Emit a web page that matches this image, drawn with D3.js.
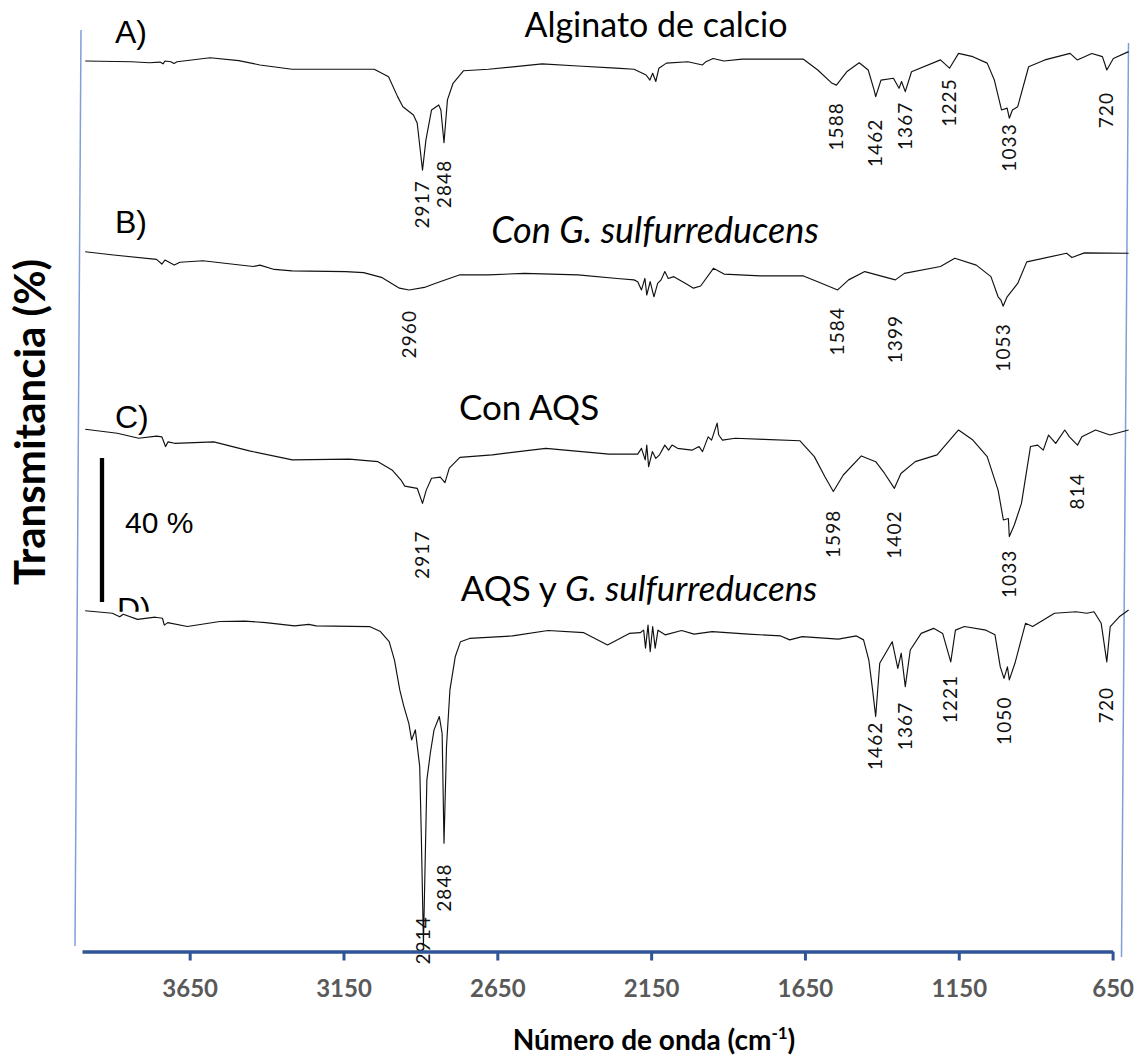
<!DOCTYPE html>
<html>
<head>
<meta charset="utf-8">
<script src="https://cdn.jsdelivr.net/npm/d3@7"></script>
<style>
  html, body { margin: 0; padding: 0; background: #fff; }
  svg { display: block; }
</style>
</head>
<body>
<svg id="chart" width="1145" height="1057"></svg>
<script>
// FTIR spectra: [wavenumber (cm-1), transmittance (%)]; each trace is stacked with its own offset.
const spectrumA = [[4000,92.5],[3852,92.3],[3794,92.0],[3760,92.2],[3750,91.7],[3744,92.5],[3725,92.3],[3715,91.8],[3705,92.3],[3599,93.4],[3507,92.6],[3439,91.4],[3336,90.2],[3072,90.2],[3026,88.1],[2997,82.6],[2980,79.8],[2946,77.5],[2934,75.2],[2917,62.2],[2906,70.6],[2888,78.9],[2865,80.3],[2858,78.9],[2848,69.8],[2837,81.7],[2819,86.3],[2785,89.8],[2705,90.2],[2533,91.7],[2418,91.1],[2296,90.5],[2238,90.2],[2199,88.6],[2187,87.2],[2178,89.1],[2168,86.8],[2158,90.5],[2134,91.9],[2065,92.3],[2018,91.4],[2007,92.3],[1984,93.2],[1949,92.5],[1891,93.0],[1694,93.0],[1648,90.0],[1602,86.3],[1588,85.8],[1555,89.5],[1515,92.0],[1486,90.0],[1467,84.4],[1462,82.6],[1445,87.2],[1405,87.7],[1387,84.9],[1379,86.8],[1367,84.0],[1347,89.5],[1254,92.8],[1225,90.5],[1196,94.6],[1150,93.7],[1104,91.9],[1081,87.2],[1058,78.9],[1040,79.4],[1033,76.6],[1023,78.9],[1006,79.8],[971,90.9],[919,92.8],[838,94.6],[815,92.8],[768,94.6],[734,93.7],[720,90.0],[699,93.2],[650,95.1]];

const spectrumB = [[4000,94.5],[3909,93.6],[3771,92.4],[3754,91.1],[3744,92.2],[3714,90.8],[3696,91.6],[3622,92.0],[3461,90.4],[3439,90.8],[3393,89.6],[3336,89.2],[3164,89.0],[3106,88.7],[3049,87.4],[2991,84.4],[2960,83.9],[2911,84.6],[2877,85.7],[2797,88.1],[2705,88.1],[2590,88.5],[2418,88.1],[2283,87.0],[2238,86.7],[2226,86.2],[2214,83.9],[2203,87.1],[2197,82.5],[2186,86.2],[2174,82.0],[2162,85.7],[2151,86.7],[2139,89.0],[2128,87.1],[2110,87.6],[2064,85.3],[2047,84.4],[2024,85.0],[1983,89.9],[1949,88.3],[1833,87.8],[1694,87.8],[1648,86.2],[1584,83.9],[1549,86.7],[1497,89.0],[1399,86.7],[1370,88.5],[1254,90.4],[1208,92.7],[1139,90.8],[1092,87.6],[1069,82.0],[1060,81.1],[1053,79.4],[1040,82.0],[1006,85.7],[977,91.7],[849,94.1],[832,92.9],[792,94.2],[650,94.1]];

const spectrumC = [[4000,95.2],[3897,94.1],[3828,92.7],[3771,93.3],[3754,93.1],[3742,90.4],[3734,91.7],[3713,91.3],[3587,91.7],[3473,89.2],[3335,86.7],[3152,86.9],[3060,86.2],[3015,83.9],[2986,81.1],[2974,79.4],[2934,78.8],[2917,74.6],[2905,78.3],[2888,81.6],[2860,81.9],[2845,80.4],[2831,84.4],[2797,87.4],[2693,88.1],[2521,89.9],[2406,89.0],[2318,88.3],[2226,88.3],[2214,89.9],[2202,86.7],[2197,90.8],[2191,84.8],[2179,89.0],[2168,87.1],[2156,88.1],[2139,90.8],[2127,89.4],[2116,90.8],[2098,89.9],[2052,89.4],[2029,90.4],[2018,89.0],[2000,93.1],[1989,92.2],[1971,96.9],[1966,93.6],[1954,92.2],[1913,92.7],[1821,92.4],[1705,92.0],[1659,87.6],[1625,82.0],[1598,77.9],[1566,82.5],[1508,87.8],[1462,86.2],[1434,83.0],[1402,78.8],[1381,82.9],[1335,86.2],[1265,88.1],[1196,95.0],[1150,92.2],[1104,87.6],[1069,78.3],[1052,70.0],[1036,70.4],[1033,65.4],[1017,68.6],[994,74.6],[965,90.4],[942,90.8],[924,89.4],[907,93.6],[884,91.3],[855,95.0],[840,93.1],[814,90.8],[800,93.1],[756,95.0],[710,93.6],[650,95.0]];

const spectrumD = [[4000,94.8],[3913,94.1],[3889,93.1],[3878,93.8],[3832,92.4],[3775,93.0],[3752,92.7],[3746,90.8],[3735,91.5],[3672,90.4],[3568,91.8],[3488,91.9],[3420,91.5],[3328,90.6],[3282,91.0],[3259,90.6],[3087,90.4],[3052,89.0],[3024,86.2],[3007,81.1],[2990,72.8],[2978,68.6],[2961,63.5],[2952,58.9],[2940,61.7],[2926,51.5],[2921,33.0],[2914,2.2],[2903,47.8],[2892,55.2],[2880,61.7],[2863,65.4],[2854,60.7],[2848,30.2],[2840,57.0],[2829,72.8],[2812,82.0],[2795,86.2],[2766,87.1],[2628,87.8],[2514,89.3],[2399,88.7],[2323,85.3],[2253,88.5],[2218,88.7],[2207,89.4],[2201,84.4],[2193,90.8],[2186,83.4],[2178,90.4],[2170,84.4],[2161,89.4],[2138,88.1],[2085,89.3],[2045,88.3],[1987,89.0],[1871,88.3],[1767,87.8],[1738,86.7],[1698,87.6],[1582,86.9],[1524,87.8],[1501,86.7],[1484,81.1],[1472,72.8],[1462,65.4],[1449,80.2],[1409,86.2],[1391,78.8],[1380,83.0],[1367,73.7],[1351,83.9],[1316,88.5],[1276,89.9],[1247,88.5],[1221,80.6],[1206,89.4],[1177,90.4],[1108,89.4],[1079,88.1],[1062,79.2],[1050,76.0],[1039,79.2],[1033,75.6],[1015,80.2],[981,91.3],[958,90.4],[888,94.1],[819,94.5],[784,94.1],[761,94.5],[738,91.3],[720,80.6],[709,90.4],[680,93.1],[650,95.0]];

// Vertical stacking offset of each trace (transmittance units)
const traceOffsets = [155, 100, 50, 0];

// Labelled absorption bands (cm-1) for each trace
const peaksA = [2917, 2848, 1588, 1462, 1367, 1225, 1033, 720];
const peaksB = [2960, 1584, 1399, 1053];
const peaksC = [2917, 1598, 1402, 1033, 814];
const peaksD = [2914, 2848, 1462, 1367, 1221, 1050, 720];

// Distance (px) from each band minimum down to the top of its label
const labelDropA = [10, 17, 17, 22, 10, 10, 5, 22];
const labelDropB = [20, 17, 35, 17];
const labelDropC = [27, 18, 22, 13, 28];
const labelDropD = [-28, 20, 5, 15, 13, 18, 25];

const traceTags = ["A)", "B)", "C)", "D)"];
const axisTicks = [3650, 3150, 2650, 2150, 1650, 1150, 650];
const scaleBarSpan = 40;      // % transmittance
const scaleBarBase = 97.2;

const svg = d3.select("#chart");

// Scales: spectra fill the frame; the printed axis is slightly shorter
const xSpec = d3.scaleLinear().domain([4000, 650]).range([85.2, 1128.6]);
const xAxisScale = d3.scaleLinear().domain([4000, 650]).range([82, 1112.6]);
const yScale = d3.scaleLinear().domain([0, 264.44]).range([952, 0]);

// Thin frame lines at both sides
svg.append("line").attr("x1", 81).attr("y1", 30).attr("x2", 75).attr("y2", 946)
  .attr("stroke", "#7f9fd8").attr("stroke-width", 1.5);
svg.append("line").attr("x1", 1128.5).attr("y1", 43).attr("x2", 1121.5).attr("y2", 957)
  .attr("stroke", "#7f9fd8").attr("stroke-width", 1.5);

const spectra = [spectrumA, spectrumB, spectrumC, spectrumD];
const peakSets = [peaksA, peaksB, peaksC, peaksD];
const dropSets = [labelDropA, labelDropB, labelDropC, labelDropD];

spectra.forEach((data, i) => {
  const off = traceOffsets[i];
  const line = d3.line()
    .x(d => xSpec(d[0]))
    .y(d => yScale(d[1] + off));
  svg.append("path")
    .datum(data)
    .attr("d", line)
    .attr("fill", "none")
    .attr("stroke", "#111")
    .attr("stroke-width", 1.15)
    .attr("stroke-linejoin", "round");

  // Band labels, read bottom-to-top under each minimum
  const lookup = new Map(data.map(d => [d[0], d[1]]));
  svg.append("g").selectAll("text")
    .data(peakSets[i])
    .join("text")
    .attr("transform", (p, k) => {
      const x = xSpec(p);
      const y = yScale(lookup.get(p) + off) + dropSets[i][k];
      return `translate(${x},${y}) rotate(-90)`;
    })
    .attr("text-anchor", "end")
    .attr("dy", "0.35em")
    .attr("font-family", "Lato, 'Open Sans', sans-serif")
    .attr("font-size", 19)
    .attr("letter-spacing", 1.1)
    .attr("fill", "#111")
    .text(p => p);
});

// Panel tags
const tagFont = "'Liberation Sans', Arial, sans-serif";
const tagPos = [[115, 43], [115, 233], [115, 428], [117, 620]];
svg.append("defs").append("clipPath").attr("id", "tagClip")
  .append("rect").attr("x", 0).attr("y", 0).attr("width", 1145).attr("height", 611.7);
traceTags.forEach((t, i) => {
  const el = svg.append("text")
    .attr("x", tagPos[i][0]).attr("y", tagPos[i][1])
    .attr("font-family", tagFont).attr("font-size", 32).attr("fill", "#000")
    .text(t);
  if (i === 3) el.attr("clip-path", "url(#tagClip)");
});

// Sample titles
const titleFont = "Lato, 'Open Sans', sans-serif";
function title(x, y, size, parts) {
  const t = svg.append("text").attr("x", x).attr("y", y)
    .attr("text-anchor", "middle").attr("font-family", titleFont)
    .attr("font-size", size).attr("fill", "#000");
  parts.forEach(p => t.append("tspan").attr("font-style", p[1] ? "italic" : "normal").text(p[0]));
}
title(656, 37, 34, [["Alginato de calcio", false]]);
title(655, 243, 36, [["Con G. sulfurreducens", true]]);
title(529, 420, 35, [["Con AQS", false]]);
title(639, 601, 35, [["AQS y ", false], ["G. sulfurreducens", true]]);

// 40 % transmittance scale bar
svg.append("line")
  .attr("x1", 102).attr("x2", 102)
  .attr("y1", yScale(scaleBarBase + scaleBarSpan))
  .attr("y2", yScale(scaleBarBase))
  .attr("stroke", "#000").attr("stroke-width", 4.3);
svg.append("text").attr("x", 125).attr("y", 533)
  .attr("font-family", tagFont).attr("font-size", 30).attr("fill", "#000")
  .text(`${scaleBarSpan} %`);

// Wavenumber axis
const axis = d3.axisBottom(xAxisScale)
  .tickValues(axisTicks)
  .tickSize(9)
  .tickSizeOuter(0)
  .tickFormat(d3.format("d"));
const gx = svg.append("g").attr("transform", "translate(0,951.5)").call(axis);
gx.select(".domain").attr("stroke", "#2F5597").attr("stroke-width", 3.5);
gx.selectAll(".tick line").attr("stroke", "#2F5597").attr("stroke-width", 3);
gx.selectAll(".tick text")
  .attr("y", 28.5)
  .attr("fill", "#595959")
  .attr("font-family", titleFont)
  .attr("font-weight", "bold")
  .attr("font-size", 24);

// Axis titles
const xt = svg.append("text").attr("x", 654).attr("y", 1050)
  .attr("text-anchor", "middle").attr("font-family", titleFont)
  .attr("font-weight", "bold").attr("font-size", 28).attr("fill", "#000");
xt.append("tspan").text("Número de onda (cm");
xt.append("tspan").attr("font-size", 17).attr("dy", -11).text("-1");
xt.append("tspan").attr("dy", 11).text(")");

svg.append("text")
  .attr("transform", "translate(45,422) rotate(-90)")
  .attr("text-anchor", "middle").attr("font-family", titleFont)
  .attr("font-weight", "bold").attr("font-size", 42).attr("fill", "#000")
  .text("Transmitancia (%)");
</script>
</body>
</html>
